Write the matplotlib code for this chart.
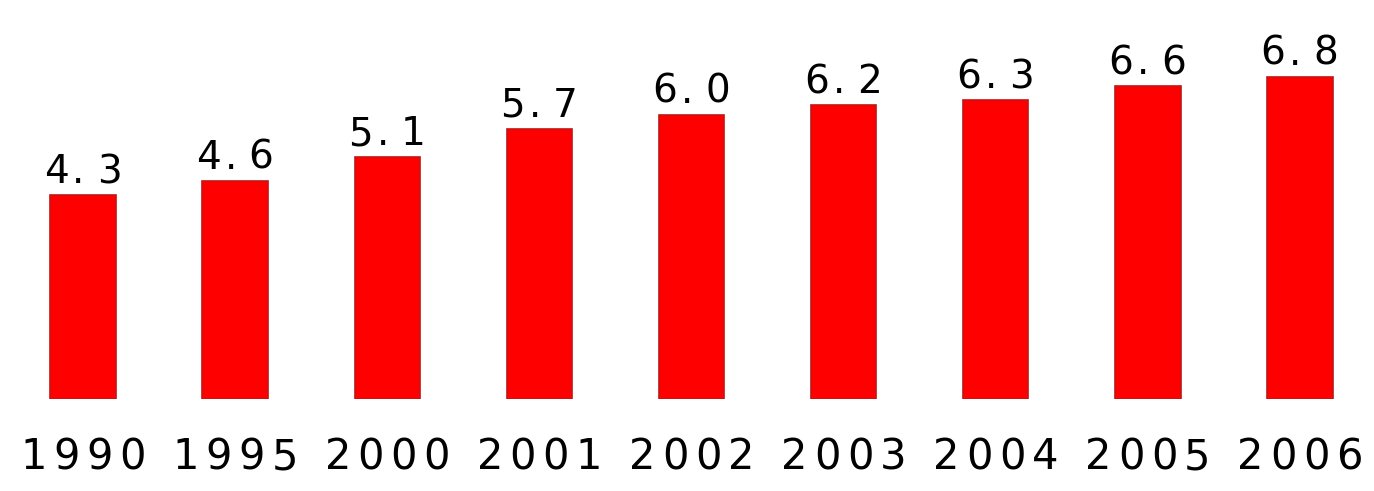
import matplotlib
matplotlib.use("Agg")
import matplotlib.pyplot as plt
import matplotlib.transforms as mtransforms

years = ["1990", "1995", "2000", "2001", "2002", "2003", "2004", "2005", "2006"]
values = [4.3, 4.6, 5.1, 5.7, 6.0, 6.2, 6.3, 6.6, 6.8]
value_labels = ["4.3", "4.6", "5.1", "5.7", "6.0", "6.2", "6.3", "6.6", "6.8"]

W, H, DPI = 1374, 491, 100
PT = 72 / DPI  # points per pixel
fig = plt.figure(figsize=(W / DPI, H / DPI), dpi=DPI)
fig.patch.set_facecolor("white")

base_px = 399  # baseline from top
ax = fig.add_axes([0, (H - base_px) / H, 1, base_px / H])
scale = 47.4  # px per unit
ax.set_ylim(0, base_px / scale)
ax.set_xlim(-83 / 152, len(years) - 1 + (W - 1300) / 152)
ax.axis("off")

x = list(range(len(years)))
ax.bar(x, values, width=0.43, color="#ff0000", edgecolor="#c41414", linewidth=1.2)

font = "DejaVu Sans"
# wide, spaced-out lettering like the original pixel font
val_offsets = [-27, -4.5, 26]            # px, per character
year_offsets = [-49.5, -16.5, 16.5, 49.5]  # px, per character

for xi, v, lab in zip(x, values, value_labels):
    for ch, dx in zip(lab, val_offsets):
        ax.annotate(ch, (xi, v), xytext=(dx * PT, 12 * PT), textcoords="offset points",
                    ha="center", va="baseline", fontsize=28, family=font, color="black")

trans = mtransforms.blended_transform_factory(ax.transData, fig.transFigure)
for xi, y in zip(x, years):
    for ch, dx in zip(y, year_offsets):
        ax.annotate(ch, (xi, 1 - 469 / H), xycoords=trans, xytext=(dx * PT, 0),
                    textcoords="offset points", ha="center", va="baseline",
                    fontsize=30, family=font, color="black", annotation_clip=False)

fig.savefig("out.png", dpi=DPI, facecolor="white")
